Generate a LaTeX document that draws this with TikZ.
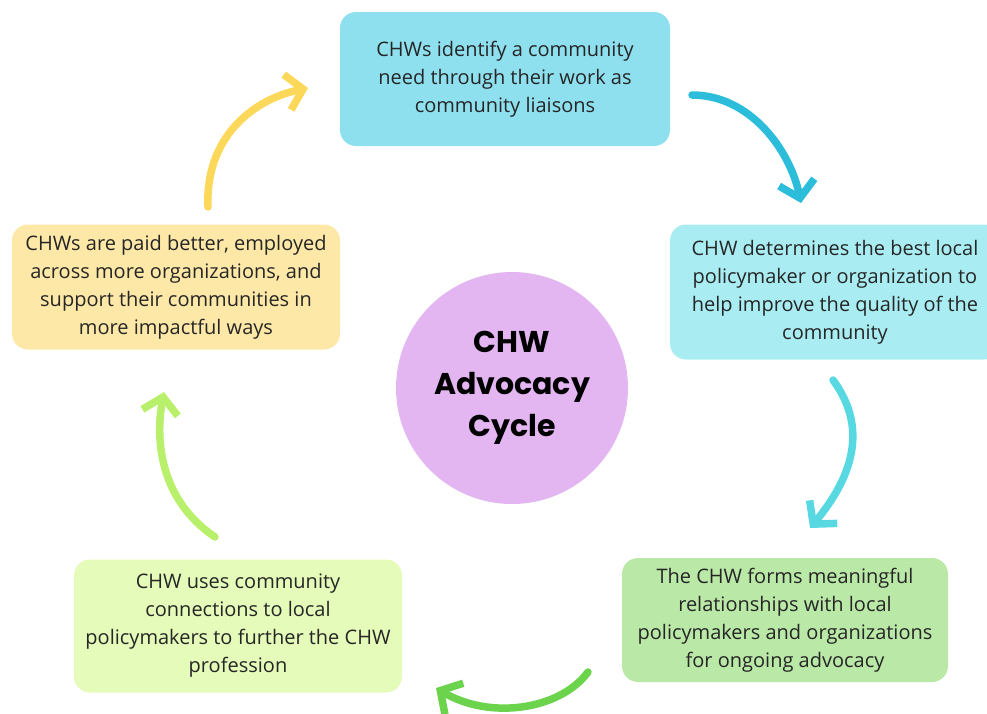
\documentclass[tikz,border=0pt]{standalone}
\usepackage{fontspec}
\setmainfont{Open Sans}
\newfontfamily\titlefont{Poppins}
\usetikzlibrary{arrows.meta}

\definecolor{topcol}{HTML}{8FE0EF}
\definecolor{rightcol}{HTML}{A9EDF2}
\definecolor{brcol}{HTML}{B9E8A7}
\definecolor{blcol}{HTML}{E5FBB9}
\definecolor{leftcol}{HTML}{FDE8A7}
\definecolor{circcol}{HTML}{E3B5F1}
\definecolor{yelarr}{HTML}{FCD85A}
\definecolor{cyanarr}{HTML}{2BBDD9}
\definecolor{lcyanarr}{HTML}{58D9E2}
\definecolor{greenarr}{HTML}{6CD44C}
\definecolor{lgreenarr}{HTML}{B9F06B}

\tikzset{
  stepbox/.style={rectangle, rounded corners=16pt, align=center,
    inner sep=0pt, font=\fontsize{20}{28}\selectfont, text=black!85},
  cyclearrow/.style={line width=7.5pt, line cap=round,
    -{Straight Barb[length=16pt, width=36pt, line width=7.5pt]}}
}

\begin{document}
\begin{tikzpicture}[x=1pt, y=-1pt]
  \useasboundingbox (0,0) rectangle (987,713);
  \clip (0,0) rectangle (987,713);
  % boxes
  \node[stepbox, fill=topcol, minimum width=330pt, minimum height=134pt] (need) at (505,79)
    {CHWs identify a community\\need through their work as\\community liaisons};
  \node[stepbox, fill=rightcol, minimum width=330pt, minimum height=135pt] (policy) at (835,292)
    {CHW determines the best local\\policymaker or organization to\\help improve the quality of the\\community};
  \node[stepbox, fill=brcol, minimum width=326pt, minimum height=124pt] (relation) at (785,620)
    {The CHW forms meaningful\\relationships with local\\policymakers and organizations\\for ongoing advocacy};
  \node[stepbox, fill=blcol, minimum width=328pt, minimum height=133pt] (profession) at (238,626)
    {CHW uses community\\connections to local\\policymakers to further the CHW\\profession};
  \node[stepbox, fill=leftcol, minimum width=328pt, minimum height=125pt] (paid) at (176,287)
    {CHWs are paid better, employed\\across more organizations, and\\support their communities in\\more impactful ways};
  % centre
  \node[circle, fill=circcol, minimum size=232pt, align=center,
    font=\titlefont\bfseries\fontsize{30}{42}\selectfont] (cycle) at (512,388)
    {CHW\\Advocacy\\Cycle};
  % arrow ends
  \coordinate (y1) at (208,207);
  \coordinate (y2) at (308,88);
  \coordinate (c1) at (692,95);
  \coordinate (c2) at (801,203);
  \coordinate (l1) at (833,380);
  \coordinate (l2) at (810,528);
  \coordinate (g1) at (588,672);
  \coordinate (g2) at (436,688);
  \coordinate (h1) at (215,537);
  \coordinate (h2) at (164,392);
  % arrows
  \draw[cyclearrow, yelarr] (y1) .. controls (205,140) and (250,100) .. (y2);
  \draw[cyclearrow, cyanarr] (c1) .. controls (750,95) and (790,150) .. (c2);
  \draw[cyclearrow, lcyanarr] (l1) .. controls (870,430) and (850,480) .. (l2);
  \draw[cyclearrow, greenarr] (g1) .. controls (560,710) and (490,720) .. (g2);
  \draw[cyclearrow, lgreenarr] (h1) .. controls (160,500) and (155,440) .. (h2);
\end{tikzpicture}
\end{document}
